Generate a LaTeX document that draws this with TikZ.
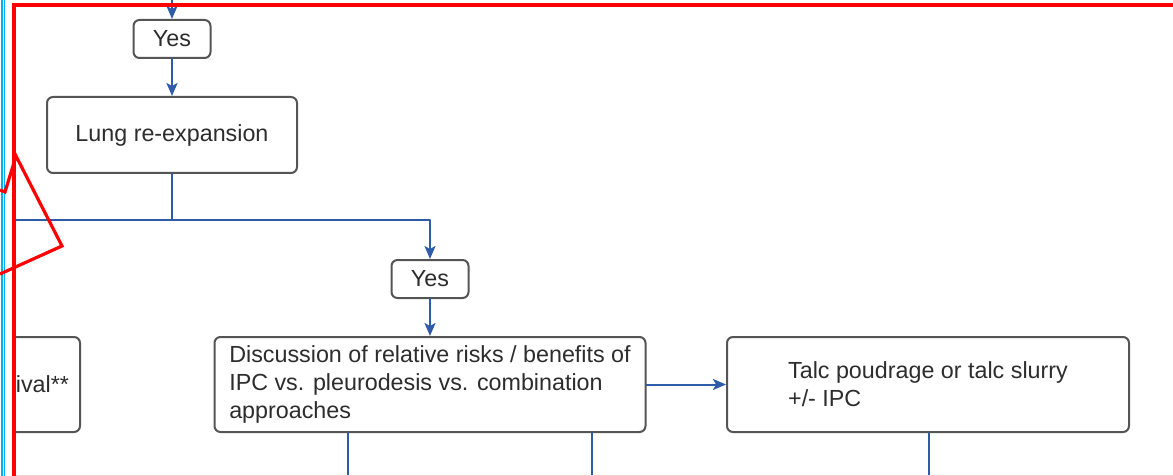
\documentclass[tikz,border=0pt]{standalone}
\usepackage{fontspec}
\setmainfont{Liberation Sans}
\usepackage{tikz}
\usetikzlibrary{arrows.meta}
\definecolor{flowblue}{RGB}{46,92,168}
\definecolor{boxgray}{RGB}{85,85,85}
\definecolor{txtgray}{RGB}{45,45,45}
\definecolor{markcyan}{RGB}{0,176,240}
\begin{document}
\begin{tikzpicture}[line cap=round,line join=round,>={Stealth[length=13pt,width=11pt,inset=3pt]},x=1pt,y=-1pt,
  flowbox/.style={draw=boxgray,line width=2pt,rounded corners=6pt,fill=white,text=txtgray,
    font=\fontsize{23.3}{28}\selectfont,align=left,inner sep=0pt},
  conn/.style={draw=flowblue,line width=2pt},
  markline/.style={draw=red,line width=3.8pt,line cap=butt,line join=miter}]
\useasboundingbox (0,0) rectangle (1173,476);
\begin{scope}
\clip (16,0) rectangle (1173,476);
\node[flowbox,minimum width=77pt,minimum height=38pt] (yesA) at (172,39) {Yes};
\node[flowbox,minimum width=250pt,minimum height=76pt] (lung) at (172,135) {Lung re-expansion};
\node[flowbox,minimum width=77pt,minimum height=38pt] (yesB) at (430,279) {Yes};
\node[flowbox,minimum width=431pt,minimum height=95pt] (disc) at (430,384.5) {Discussion of relative risks / benefits of\\IPC vs. pleurodesis vs. combination\\approaches};
\node[flowbox,minimum width=402pt,minimum height=95pt] (talc) at (928,384.5) {Talc poudrage or talc slurry\\+/- IPC};
\node[flowbox,anchor=east,text width=230pt,align=right,inner xsep=11pt,minimum height=95pt] (surv) at (81,384.5) {survival**};
\coordinate (topin) at (172,0);
\coordinate (split) at (172,220);
\coordinate (leftend) at (0,220);
\coordinate (outA) at (348,476);
\coordinate (outB) at (592,476);
\coordinate (outC) at (929,476);
\draw[conn,->] (topin) -- (yesA.north);
\draw[conn,->] (yesA.south) -- (lung.north);
\draw[conn] (lung.south) -- (split);
\draw[conn] (split) -- (leftend);
\draw[conn,->] (split) -| (yesB.north);
\draw[conn,->] (yesB.south) -- (disc.north);
\draw[conn,->] (disc.east) -- (talc.west);
\draw[conn] (outA |- disc.south) -- (outA);
\draw[conn] (outB |- disc.south) -- (outB);
\draw[conn] (outC |- talc.south) -- (outC);
\end{scope}
\draw[draw=markcyan,line width=2.2pt] (1.8,0) -- (1.8,476);
\draw[draw=markcyan,line width=1.6pt] (4.6,0) -- (4.6,476);
\draw[draw=red!20,line width=1pt] (16,475.5) -- (1173,475.5);
\draw[markline] (14,476) -- (14,4.8) -- (1173,4.8);
\draw[markline,line width=3.2pt] (0,190) -- (5,192) -- (16,156) -- (62,246) -- (0,274);
\end{tikzpicture}
\end{document}
